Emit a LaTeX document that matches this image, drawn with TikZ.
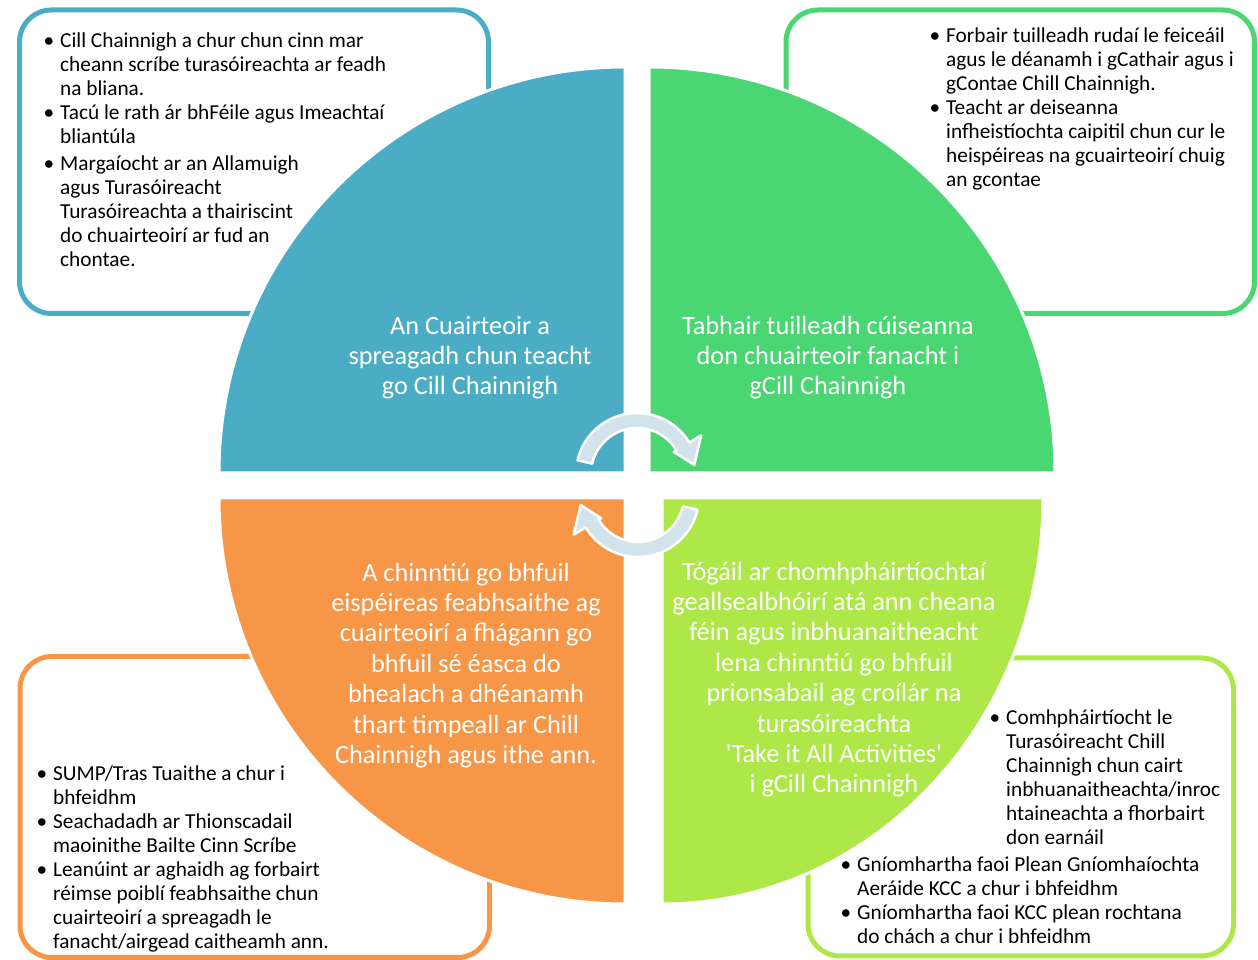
\documentclass[tikz,border=0pt]{standalone}
\usepackage{fontspec}
\usepackage{tikz}
\newfontfamily\carlito{Carlito}

\definecolor{quadblue}{HTML}{4BACC6}
\definecolor{quadgreen}{HTML}{4AD673}
\definecolor{quadorange}{HTML}{F79646}
\definecolor{quadlime}{HTML}{AEE848}
\definecolor{arrowblue}{HTML}{D2E3EC}

\newcommand{\bul}{\llap{\textbullet\hspace{6pt}}}

\tikzset{
  infobox/.style={line width=5pt, rounded corners=32pt},
  quad/.style={draw=white, line width=3pt},
  cyclearrow/.style={fill=arrowblue, draw=white, line width=2.5pt, line join=round},
  quadtext/.style={text=white, align=center, inner sep=0pt, anchor=north,
    font=\carlito\fontsize{26.3}{30.4}\selectfont},
  boxtext/.style={text=black, align=left, inner sep=0pt, anchor=north west,
    font=\carlito\fontsize{21.3}{24}\selectfont}
}

\begin{document}
\begin{tikzpicture}[x=1pt, y=1pt]
    \useasboundingbox (0,0) rectangle (1258,960);

    % boxes behind the circle
    \draw [infobox, draw=quadblue] (19.5,646.5) rectangle (488.5,950);
    \draw [infobox, draw=quadgreen] (786,646.5) rectangle (1254.5,950);
    \draw [infobox, draw=quadorange] (20,2.5) rectangle (489.5,303.5);
    \draw [infobox, draw=quadlime] (808,4) rectangle (1233.5,302);

    \filldraw [quad, fill=quadblue] (625,487) -- (219,487) arc [start angle=180, end angle=90, radius=406] -- cycle;
    \filldraw [quad, fill=quadgreen] (649,487) -- (649,893) arc [start angle=90, end angle=0, radius=406] -- cycle;
    \filldraw [quad, fill=quadorange] (625,462) -- (219,462) arc [start angle=180, end angle=270, radius=406] -- cycle;
    \filldraw [quad, fill=quadlime] (662,462) -- (1043,462) arc [start angle=0, end angle=-90, x radius=381, y radius=406] -- cycle;

    % the two turning arrows
    \begin{scope}[shift={(637,486)}]
      \filldraw [cyclearrow] (167:61) arc [start angle=167, end angle=31, radius=61] -- (31:75) -- (9:58) -- (31:43) -- (31:46) arc [start angle=31, end angle=167, radius=46] -- cycle;
    \end{scope}
    \begin{scope}[shift={(638,464)}, rotate=180]
      \filldraw [cyclearrow] (167:61) arc [start angle=167, end angle=31, radius=61] -- (31:75) -- (9:58) -- (31:43) -- (31:46) arc [start angle=31, end angle=167, radius=46] -- cycle;
    \end{scope}

    \node [quadtext] (attracttxt) at (470,647.3) {\strut An Cuairteoir a\\ spreagadh chun teacht\\ go Cill Chainnigh};
    \node [quadtext] (staytxt) at (828,647.3) {\strut Tabhair tuilleadh cúiseanna\\ don chuairteoir fanacht i\\ gCill Chainnigh};
    \node [quadtext] (movetxt) at (466,400.3) {\strut A chinntiú go bhfuil\\ eispéireas feabhsaithe ag\\ cuairteoirí a fhágann go\\ bhfuil sé éasca do\\ bhealach a dhéanamh\\ thart timpeall ar Chill\\ Chainnigh agus ithe ann.};
    \node [quadtext] (partnertxt) at (834,401.3) {\strut Tógáil ar chomhpháirtíochtaí\\ geallsealbhóirí atá ann cheana\\ féin agus inbhuanaitheacht\\ lena chinntiú go bhfuil\\ prionsabail ag croílár na\\ turasóireachta\\ 'Take it All Activities'\\ i gCill Chainnigh};

    \node [boxtext] (attractlist) at (60,929.8) {\strut\bul Cill Chainnigh a chur chun cinn mar\\
      cheann scríbe turasóireachta ar feadh\\ na bliana.\\
      \bul Tacú le rath ár bhFéile agus Imeachtaí\\ bliantúla\\[3pt]
      \bul Margaíocht ar an Allamuigh\\ agus Turasóireacht\\ Turasóireachta a thairiscint\\ do chuairteoirí ar fud an\\ chontae.};
    \node [boxtext] (staylist) at (946,934.8) {\strut\bul Forbair tuilleadh rudaí le feiceáil\\
      agus le déanamh i gCathair agus i\\ gContae Chill Chainnigh.\\
      \bul Teacht ar deiseanna\\ infheistíochta caipitil chun cur le\\ heispéireas na gcuairteoirí chuig\\ an gcontae};
    \node [boxtext] (movelist) at (53,196.8) {\strut\bul SUMP/Tras Tuaithe a chur i\\ bhfeidhm\\
      \bul Seachadadh ar Thionscadail\\ maoinithe Bailte Cinn Scríbe\\
      \bul Leanúint ar aghaidh ag forbairt\\ réimse poiblí feabhsaithe chun\\ cuairteoirí a spreagadh le\\ fanacht/airgead caitheamh ann.};
    \node [boxtext] (partnerlist) at (1006,252.8) {\strut\bul Comhpháirtíocht le\\ Turasóireacht Chill\\ Chainnigh chun cairt\\ inbhuanaitheachta/inroc\\ htaineachta a fhorbairt\\ don earnáil};
    \node [boxtext] (climatelist) at (857,105.8) {\strut\bul Gníomhartha faoi Plean Gníomhaíochta\\ Aeráide KCC a chur i bhfeidhm\\
      \bul Gníomhartha faoi KCC plean rochtana\\ do chách a chur i bhfeidhm};
\end{tikzpicture}
\end{document}
